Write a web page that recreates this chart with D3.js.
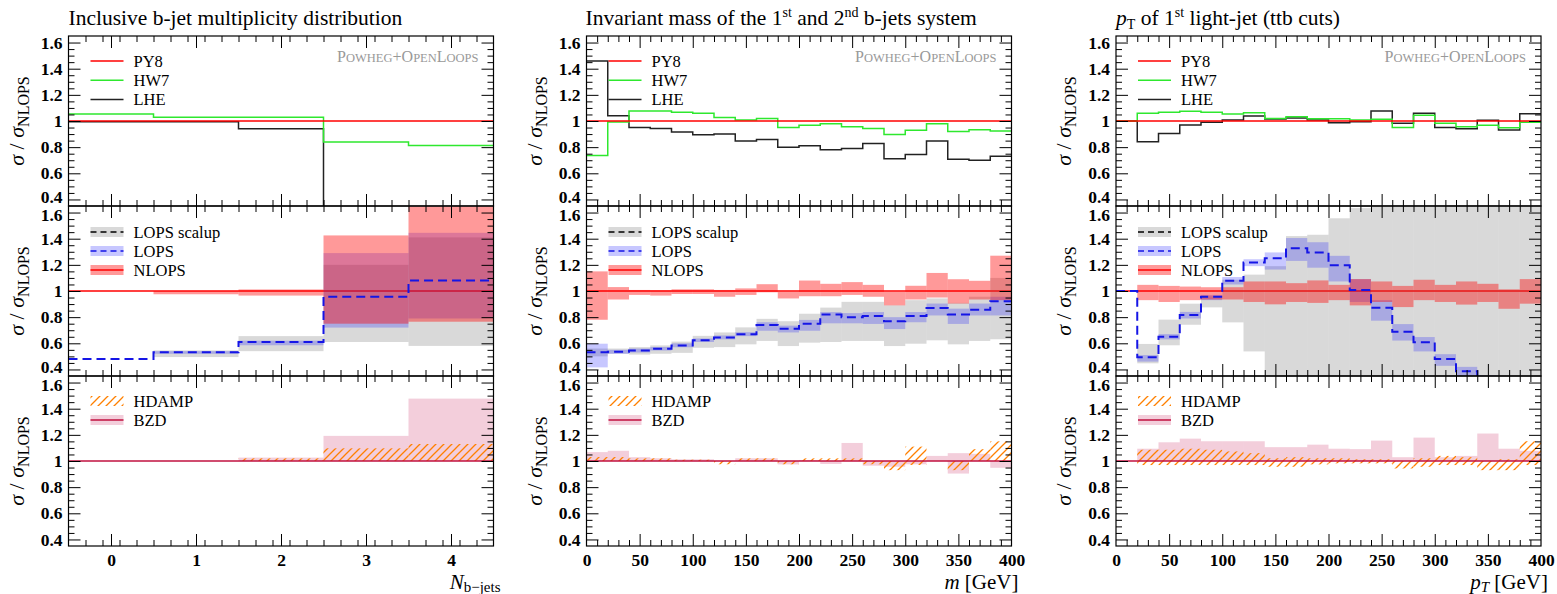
<!DOCTYPE html>
<html><head><meta charset="utf-8">
<script src="https://cdn.jsdelivr.net/npm/d3@7"></script>
<style>body{margin:0;background:#fff} svg text{font-family:"Liberation Serif",serif}</style>
</head><body><svg id="c" width="1557" height="594"></svg>
<script>
// ---------------- DATA ----------------
const yMajorTicks = [0.4, 0.6, 0.8, 1, 1.2, 1.4, 1.6];
const nbXTicks = [0, 1, 2, 3, 4];
const gevXTicks = [0, 50, 100, 150, 200, 250, 300, 350, 400];

// Column 1: inclusive b-jet multiplicity
const nbEdges = [-0.5, 0.5, 1.5, 2.5, 3.5, 4.5];
const nb_PY8 = [1, 1, 1, 1, 1];
const nb_HW7 = [1.054, 1.028, 1.028, 0.84, 0.813];
const nb_LHE = [0.995, 0.995, 0.94, 0, 0];
const nb_LOPS = [0.48, 0.531, 0.61, 0.956, 1.08];
const nb_LOPS_lo = [null, 0.52, 0.585, 0.72, 0.79];
const nb_LOPS_hi = [null, 0.54, 0.62, 1.29, 1.445];
const nb_SCAL_lo = [null, 0.495, 0.54, 0.61, 0.58];
const nb_SCAL_hi = [null, 0.546, 0.655, 1.2, 1.41];
const nb_NLOPS_lo = [null, 0.975, 0.965, 0.75, 0.765];
const nb_NLOPS_hi = [null, 1.0, 1.012, 1.425, 1.645];
const nb_BZD_lo = [null, null, 1.0, 1.0, 1.0];
const nb_BZD_hi = [null, null, 1.026, 1.192, 1.477];
const nb_HDAMP_lo = [null, null, 1.0, 1.0, 1.0];
const nb_HDAMP_hi = [null, null, 1.02, 1.097, 1.13];

// Column 2: invariant mass of b1 b2
const mEdges = [0,20,40,60,80,100,120,140,160,180,200,220,240,260,280,300,320,340,360,380,400];
const m_PY8 = [1,1,1,1,1,1,1,1,1,1,1,1,1,1,1,1,1,1,1,1];
const m_LHE = [1.458,1.041,0.951,0.943,0.915,0.894,0.9,0.848,0.858,0.80,0.81,0.78,0.79,0.828,0.712,0.743,0.848,0.707,0.70,0.73];
const m_HW7 = [0.737,0.992,1.077,1.077,1.067,1.06,1.026,1.008,1.02,0.951,0.967,0.979,0.956,0.943,0.897,0.93,0.979,0.92,0.933,0.923];
const m_LOPS = [0.532,0.535,0.545,0.558,0.584,0.623,0.644,0.67,0.74,0.712,0.75,0.82,0.8,0.808,0.769,0.808,0.87,0.82,0.857,0.922];
const m_LOPS_lo = [0.416,0.52,0.53,0.545,0.57,0.61,0.63,0.655,0.696,0.683,0.696,0.753,0.753,0.748,0.709,0.761,0.813,0.748,0.813,0.813];
const m_LOPS_hi = [0.597,0.55,0.56,0.572,0.6,0.637,0.66,0.685,0.761,0.735,0.779,0.839,0.831,0.839,0.8,0.839,0.904,0.865,0.904,0.956];
const m_SCAL_lo = [0.5,0.52,0.514,0.52,0.527,0.566,0.571,0.592,0.618,0.579,0.605,0.61,0.618,0.618,0.579,0.597,0.623,0.592,0.618,0.631];
const m_SCAL_hi = [0.56,0.56,0.571,0.584,0.613,0.657,0.683,0.722,0.787,0.769,0.826,0.873,0.917,0.917,0.891,0.93,0.943,0.909,0.956,1.1];
const m_NLOPS_lo = [0.78,0.935,0.97,0.965,0.977,0.977,0.956,0.97,0.99,0.943,0.96,0.96,0.97,0.956,0.89,0.935,0.95,0.904,0.935,0.93];
const m_NLOPS_hi = [1.15,1.03,1.008,1.005,1.013,1.013,1.008,1.02,1.052,0.995,1.08,1.055,1.068,1.047,0.995,1.04,1.138,1.09,1.078,1.27];
const m_BZD_lo = [1,1,1,1,1,1,1,1,1,0.974,1,0.977,1,0.964,0.956,0.975,1,0.904,1,0.948];
const m_BZD_hi = [1.068,1.078,1.029,1.021,1.013,1.013,1,1.021,1.021,1,1.008,1,1.138,1,1,1,1.039,1.06,1.055,1];
const m_HDAMP_lo = [1,1,1,1,1,1,0.975,1,1,0.975,1,1,1,0.975,0.93,0.97,1,0.93,1,1];
const m_HDAMP_hi = [1.03,1.03,1.02,1.02,1.01,1.01,1,1.02,1.02,1,1.02,1.02,1.02,1,1,1.11,1,1,1.09,1.15];

// Column 3: pT of leading light jet
const ptEdges = [0,20,40,60,80,100,120,140,160,180,200,220,240,260,280,300,320,340,360,380,400];
const pt_PY8 = [1,1,1,1,1,1,1,1,1,1,1,1,1,1,1,1,1,1,1,1];
const pt_LHE = [1,0.841,0.905,0.969,0.99,1.008,1.038,1.015,1.023,1.008,0.987,0.995,1.077,0.982,1.059,0.951,0.941,1.005,0.931,1.056];
const pt_HW7 = [1,1.059,1.067,1.074,1.067,1.054,1.064,1.02,1.033,1.018,1.018,1.008,1.013,0.951,1.044,0.982,0.956,0.967,0.949,0.99];
const pt_LOPS = [1,0.493,0.65,0.817,0.956,1.078,1.217,1.25,1.326,1.295,1.196,1.008,0.872,0.689,0.608,0.48,0.386,0.342,0.3,0.27];
const pt_LOPS_lo = [null,0.46,0.63,0.79,0.93,1.05,1.19,1.164,1.23,1.178,1.073,0.916,0.773,0.621,0.538,0.428,0.33,0.3,0.25,0.22];
const pt_LOPS_hi = [null,0.51,0.67,0.84,0.97,1.107,1.243,1.295,1.405,1.373,1.269,1.091,0.93,0.747,0.648,0.517,0.42,0.355,0.33,0.3];
const pt_SCAL_lo = [null,0.447,0.585,0.742,0.875,0.76,0.538,0.3,0.3,0.3,0.3,0.3,0.3,0.3,0.3,0.3,0.3,0.3,0.3,0.3];
const pt_SCAL_hi = [null,0.595,0.781,0.903,0.96,1.086,1.125,1.19,1.42,1.43,1.556,1.634,1.7,1.7,1.7,1.7,1.7,1.7,1.7,1.7];
const pt_NLOPS_lo = [null,0.93,0.916,0.93,0.935,0.935,0.916,0.898,0.916,0.909,0.93,0.89,0.916,0.877,0.93,0.916,0.896,0.916,0.864,0.903];
const pt_NLOPS_hi = [null,1.047,1.039,1.034,1.029,1.029,1.073,1.073,1.06,1.081,1.047,1.091,1.073,1.039,1.086,1.047,1.073,1.055,1.013,1.091];
const pt_BZD_lo = [null,1,1,1,1,1,1,1,1,1,1,1,1,1,1,1,1,1,1,1];
const pt_BZD_hi = [null,1.094,1.143,1.171,1.151,1.151,1.151,1.106,1.106,1.125,1.094,1.091,1.156,1.029,1.179,1.029,1.039,1.21,1.094,1.078];
const pt_HDAMP_lo = [null,0.969,0.969,0.969,0.969,0.969,0.969,0.956,0.956,0.974,0.982,0.982,0.982,0.943,0.956,0.969,0.969,0.93,0.93,0.969];
const pt_HDAMP_hi = [null,1.086,1.086,1.094,1.086,1.073,1.06,1.021,1.029,1.021,1.021,1.013,1.013,1.0,1.021,1.039,1.029,1.0,1.013,1.151];

// ---------------- LAYOUT / STYLE ----------------
const ROW_TOPS = [36, 206, 376], PH = 170, PW = 425;
const COL_LEFTS = [68.5, 586.5, 1116];
const C = {py8:"#ff0000", hw7:"#2ee82e", lhe:"#222", lops:"#1515e6", nlops:"#ff0000",
  gray:"#808080", blue:"#0000ff", red:"#ff0000", pink:"rgb(200,30,90)", bzd:"#c0103f", hd:"#ff8000"};
const OP = {gray:0.3, blue:0.22, red:0.4, pink:0.22};

const cols = [
  {edges:nbEdges, dom:[-0.5,4.5], xMaj:nbXTicks, xMinStep:0.2, fmt:d=>String(d),
   top:{PY8:nb_PY8,HW7:nb_HW7,LHE:nb_LHE},
   mid:{LOPS:nb_LOPS,LOPSlo:nb_LOPS_lo,LOPShi:nb_LOPS_hi,SClo:nb_SCAL_lo,SChi:nb_SCAL_hi,NLlo:nb_NLOPS_lo,NLhi:nb_NLOPS_hi},
   bot:{BZlo:nb_BZD_lo,BZhi:nb_BZD_hi,HDlo:nb_HDAMP_lo,HDhi:nb_HDAMP_hi}},
  {edges:mEdges, dom:[0,400], xMaj:gevXTicks, xMinStep:10, fmt:d=>String(d),
   top:{PY8:m_PY8,HW7:m_HW7,LHE:m_LHE},
   mid:{LOPS:m_LOPS,LOPSlo:m_LOPS_lo,LOPShi:m_LOPS_hi,SClo:m_SCAL_lo,SChi:m_SCAL_hi,NLlo:m_NLOPS_lo,NLhi:m_NLOPS_hi},
   bot:{BZlo:m_BZD_lo,BZhi:m_BZD_hi,HDlo:m_HDAMP_lo,HDhi:m_HDAMP_hi}},
  {edges:ptEdges, dom:[0,400], xMaj:gevXTicks, xMinStep:10, fmt:d=>String(d),
   top:{PY8:pt_PY8,HW7:pt_HW7,LHE:pt_LHE},
   mid:{LOPS:pt_LOPS,LOPSlo:pt_LOPS_lo,LOPShi:pt_LOPS_hi,SClo:pt_SCAL_lo,SChi:pt_SCAL_hi,NLlo:pt_NLOPS_lo,NLhi:pt_NLOPS_hi},
   bot:{BZlo:pt_BZD_lo,BZhi:pt_BZD_hi,HDlo:pt_HDAMP_lo,HDhi:pt_HDAMP_hi}}
];

const svg = d3.select("#c");
const defs = svg.append("defs");
const pat = defs.append("pattern").attr("id","hatch").attr("patternUnits","userSpaceOnUse")
  .attr("width",8).attr("height",8);
pat.append("path").attr("d","M-2,2 L2,-2 M0,8 L8,0 M6,10 L10,6")
  .attr("stroke",C.hd).attr("stroke-width",1.3).attr("fill","none");

const yMinor = d3.range(0.4, 1.6001, 0.05).filter(v => !yMajorTicks.some(m => Math.abs(m-v)<1e-6));
const fmtY = d => Math.abs(d-1)<1e-9 ? "1" : d3.format(".1f")(d);

function stepPts(edges, vals){
  const p = vals.map((v,i)=>[edges[i], v]);
  p.push([edges[edges.length-1], vals[vals.length-1]]);
  return p;
}
function bandRects(g, edges, lo, hi, x, y, fill, op){
  const d = lo.map((l,i)=>({x0:edges[i], x1:edges[i+1], lo:l, hi:hi[i]})).filter(d=>d.lo!=null);
  g.selectAll(null).data(d).enter().append("rect")
    .attr("x",d=>x(d.x0)).attr("width",d=>x(d.x1)-x(d.x0))
    .attr("y",d=>y(d.hi)).attr("height",d=>Math.max(0,y(d.lo)-y(d.hi)))
    .attr("fill",fill).attr("fill-opacity",op);
}

function axes(g, x, y, top, left, col, ri){
  const bottom = top+PH, right = left+PW;
  const xMin = d3.range(col.dom[0], col.dom[1]+1e-9, col.xMinStep)
    .map(v=>+v.toFixed(6))
    .filter(v => v>col.dom[0]+1e-9 && v<col.dom[1]-1e-9 && !col.xMaj.some(m=>Math.abs(m-v)<1e-6));
  const add = (tr, ax) => {
    const a = g.append("g").attr("transform", tr).call(ax);
    a.selectAll(".domain").remove();
    a.attr("font-family","Liberation Serif").attr("font-size",17.5).attr("font-weight","bold");
    a.selectAll("line").attr("stroke","#000").attr("stroke-width",1);
    return a;
  };
  const inner = col.xMaj.filter(v=>v>col.dom[0]&&v<col.dom[1]);
  const yl = add(`translate(${left},0)`, d3.axisLeft(y).tickValues(yMajorTicks).tickSize(-12).tickPadding(6).tickFormat(fmtY));
  // nudge the labels that sit next to a neighbouring panel, as in the reference
  yl.selectAll(".tick text").attr("dy", d => {
    if (Math.abs(d-1.6)<1e-9 && ri>0) return "0.47em";
    if (Math.abs(d-0.4)<1e-9 && ri<2) return "0.15em";
    return "0.32em";
  });
  add(`translate(${left},0)`, d3.axisLeft(y).tickValues(yMinor).tickSize(-6).tickFormat(""));
  add(`translate(${right},0)`, d3.axisRight(y).tickValues(yMajorTicks).tickSize(-12).tickFormat(""));
  add(`translate(${right},0)`, d3.axisRight(y).tickValues(yMinor).tickSize(-6).tickFormat(""));
  add(`translate(0,${bottom})`, d3.axisBottom(x).tickValues(inner).tickSize(-12).tickFormat(""));
  add(`translate(0,${bottom})`, d3.axisBottom(x).tickValues(xMin).tickSize(-6).tickFormat(""));
  add(`translate(0,${top})`, d3.axisTop(x).tickValues(inner).tickSize(-12).tickFormat(""));
  add(`translate(0,${top})`, d3.axisTop(x).tickValues(xMin).tickSize(-6).tickFormat(""));
  if (ri===2){
    add(`translate(0,${bottom})`, d3.axisBottom(x).tickValues(col.xMaj).tickSize(0).tickPadding(8).tickFormat(col.fmt));
  }
  g.append("rect").attr("x",left).attr("y",top).attr("width",PW).attr("height",PH)
    .attr("fill","none").attr("stroke","#000").attr("stroke-width",1.2);
}

function yLabel(g, cx, cy){
  const t = g.append("text").attr("transform",`translate(${cx},${cy}) rotate(-90)`)
    .attr("text-anchor","middle").attr("font-size",22);
  t.append("tspan").attr("font-style","italic").text("σ");
  t.append("tspan").text(" / ");
  t.append("tspan").attr("font-style","italic").text("σ");
  t.append("tspan").attr("font-size",16).attr("dy",5).text("NLOPS");
}

cols.forEach((col, ci) => {
  const left = COL_LEFTS[ci];
  const x = d3.scaleLinear().domain(col.dom).range([left, left+PW]);
  ROW_TOPS.forEach((top, ri) => {
    const y = d3.scaleLinear().domain([0.35,1.65]).range([top+PH, top]);
    const cid = `clip${ci}${ri}`;
    defs.append("clipPath").attr("id",cid).append("rect")
      .attr("x",left).attr("y",top).attr("width",PW).attr("height",PH);
    const g = svg.append("g");
    const pg = g.append("g").attr("clip-path",`url(#${cid})`);
    const line = d3.line().x(d=>x(d[0])).y(d=>y(d[1])).curve(d3.curveStepAfter);
    if (ri===0){
      pg.append("path").attr("d",line(stepPts(col.edges,col.top.LHE))).attr("fill","none").attr("stroke",C.lhe).attr("stroke-width",1.5);
      pg.append("path").attr("d",line(stepPts(col.edges,col.top.HW7))).attr("fill","none").attr("stroke",C.hw7).attr("stroke-width",1.5);
      pg.append("path").attr("d",line(stepPts(col.edges,col.top.PY8))).attr("fill","none").attr("stroke",C.py8).attr("stroke-width",1.3);
    } else if (ri===1){
      const m = col.mid;
      pg.append("path").attr("d",line(stepPts(col.edges,col.top.PY8))).attr("fill","none").attr("stroke",C.nlops).attr("stroke-width",1.3);
      bandRects(pg, col.edges, m.SClo, m.SChi, x, y, C.gray, OP.gray);
      bandRects(pg, col.edges, m.LOPSlo, m.LOPShi, x, y, C.blue, OP.blue);
      bandRects(pg, col.edges, m.NLlo, m.NLhi, x, y, C.red, OP.red);
      pg.append("path").attr("d",line(stepPts(col.edges,m.LOPS))).attr("fill","none").attr("stroke",C.lops)
        .attr("stroke-width",2).attr("stroke-dasharray","9,5");
    } else {
      const b = col.bot;
      bandRects(pg, col.edges, b.BZlo, b.BZhi, x, y, C.pink, OP.pink);
      bandRects(pg, col.edges, b.HDlo, b.HDhi, x, y, "url(#hatch)", 1);
      pg.append("path").attr("d",line(stepPts(col.edges,col.top.PY8))).attr("fill","none").attr("stroke",C.bzd).attr("stroke-width",1.3);
    }
    axes(g, x, y, top, left, col, ri);
    yLabel(g, left-45, top+PH/2);

    // legends
    const lx0 = left+22, lx1 = left+55, tx = left+65;
    const leg = g.append("g").attr("font-size",16.5);
    if (ri===0){
      [["PY8",C.py8],["HW7",C.hw7],["LHE",C.lhe]].forEach((it,k)=>{
        const cy = top+25+k*19.3;
        leg.append("line").attr("x1",lx0).attr("x2",lx1).attr("y1",cy).attr("y2",cy).attr("stroke",it[1]).attr("stroke-width",1.5);
        leg.append("text").attr("x",tx).attr("y",cy).attr("dy","0.35em").text(it[0]);
      });
      const pw = g.append("text").attr("x",left+PW-15).attr("y",top+26).attr("text-anchor","end").attr("fill","#999");
      [["P",16],["OWHEG",12.5],["+",16],["O",16],["PEN",12.5],["L",16],["OOPS",12.5]].forEach(s=>{
        pw.append("tspan").attr("font-size",s[1]).text(s[0]);
      });
    } else if (ri===1){
      [["LOPS scalup",C.gray,OP.gray,"#000","6,4"],["LOPS",C.blue,OP.blue,C.lops,"6,4"],["NLOPS",C.red,OP.red,C.nlops,null]].forEach((it,k)=>{
        const cy = top+26+k*19;
        leg.append("rect").attr("x",lx0).attr("y",cy-5).attr("width",lx1-lx0).attr("height",10).attr("fill",it[1]).attr("fill-opacity",it[2]);
        leg.append("line").attr("x1",lx0).attr("x2",lx1).attr("y1",cy).attr("y2",cy).attr("stroke",it[3]).attr("stroke-width",1.5).attr("stroke-dasharray",it[4]);
        leg.append("text").attr("x",tx).attr("y",cy).attr("dy","0.35em").text(it[0]);
      });
    } else {
      let cy = top+25;
      leg.append("rect").attr("x",lx0).attr("y",cy-5).attr("width",lx1-lx0).attr("height",10).attr("fill","url(#hatch)");
      leg.append("text").attr("x",tx).attr("y",cy).attr("dy","0.35em").text("HDAMP");
      cy = top+44;
      leg.append("rect").attr("x",lx0).attr("y",cy-5).attr("width",lx1-lx0).attr("height",10).attr("fill",C.pink).attr("fill-opacity",OP.pink);
      leg.append("line").attr("x1",lx0).attr("x2",lx1).attr("y1",cy).attr("y2",cy).attr("stroke",C.bzd).attr("stroke-width",1.5);
      leg.append("text").attr("x",tx).attr("y",cy).attr("dy","0.35em").text("BZD");
    }
  });
});

// Titles
const T = svg.append("g").attr("font-size",21.5);
let t = T.append("text").attr("x",COL_LEFTS[0]).attr("y",25).text("Inclusive b-jet multiplicity distribution");
t = T.append("text").attr("x",COL_LEFTS[1]-1).attr("y",25);
t.append("tspan").text("Invariant mass of the 1");
t.append("tspan").attr("font-size",14).attr("dy",-8).text("st");
t.append("tspan").attr("dy",8).text(" and 2");
t.append("tspan").attr("font-size",14).attr("dy",-8).text("nd");
t.append("tspan").attr("dy",8).text(" b-jets system");
t = T.append("text").attr("x",COL_LEFTS[2]).attr("y",25);
t.append("tspan").attr("font-style","italic").text("p");
t.append("tspan").attr("font-size",14).attr("dy",4).text("T");
t.append("tspan").attr("dy",-4).text(" of 1");
t.append("tspan").attr("font-size",14).attr("dy",-8).text("st");
t.append("tspan").attr("dy",8).text(" light-jet (ttb cuts)");

// X axis titles
const XT = svg.append("g").attr("font-size",21).attr("text-anchor","end");
t = XT.append("text").attr("x",COL_LEFTS[0]+PW+7).attr("y",589);
t.append("tspan").attr("font-style","italic").text("N");
t.append("tspan").attr("font-size",15).attr("dy",3).text("b−jets");
t = XT.append("text").attr("x",COL_LEFTS[1]+PW+7).attr("y",589);
t.append("tspan").attr("font-style","italic").text("m");
t.append("tspan").text(" [GeV]");
t = XT.append("text").attr("x",COL_LEFTS[2]+PW+7).attr("y",589);
t.append("tspan").attr("font-style","italic").text("p");
t.append("tspan").attr("font-style","italic").attr("font-size",15).attr("dy",3).text("T");
t.append("tspan").attr("dy",-3).text(" [GeV]");
</script></body></html>
